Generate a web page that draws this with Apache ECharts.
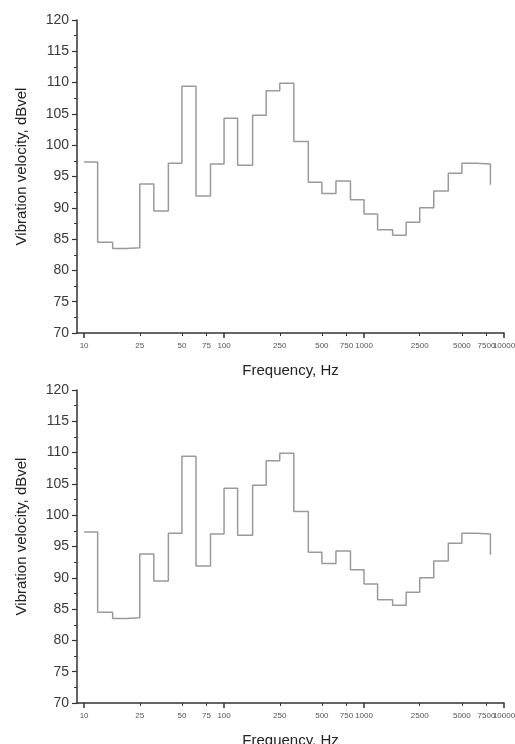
<!DOCTYPE html>
<html>
<head>
<meta charset="utf-8">
<script src="https://cdn.jsdelivr.net/npm/echarts@6/dist/echarts.min.js"></script>
<style>
  html, body { margin: 0; padding: 0; background: #fff; }
  #chart { width: 515px; height: 744px; }
</style>
</head>
<body>
<div id="chart"></div>
<script>
// One-third-octave band centre frequencies, Hz
const bandCentres = [10, 12.5, 16, 20, 25, 31.5, 40, 50, 63, 80, 100, 125, 160, 200, 250,
  315, 400, 500, 630, 800, 1000, 1250, 1600, 2000, 2500, 3150, 4000, 5000, 6300, 8000];
// Vibration velocity level per band, dBvel
const velocityLevels = [97.3, 84.5, 83.5, 83.6, 93.8, 89.5, 97.1, 109.4, 91.9, 97.0, 104.3, 96.8,
  104.8, 108.7, 109.9, 100.6, 94.1, 92.3, 94.3, 91.3, 89.0, 86.5, 85.6, 87.7, 90.0, 92.7,
  95.5, 97.1, 97.0, 93.7];
// Labelled frequency ticks (the last one is drawn by the decade axis)
const freqTickLabels = [10, 25, 50, 75, 100, 250, 500, 750, 1000, 2500, 5000, 7500];
const endTickLabels = [10000];
const decadeTicks = [10, 100, 1000, 10000];
const minorFreqTicks = [25, 50, 75, 250, 500, 750, 2500, 5000, 7500];
// Level axis range
const levelMin = 70, levelMax = 120, levelStep = 5;

const FONT = 'Liberation Sans, Arial, sans-serif';
const AXIS_COLOR = '#333';
const freqMin = 8.9, freqMax = 10000;

const grids = [
  { left: 77, top: 20, width: 427, height: 313, outerBoundsMode: 'none', containLabel: false },
  { left: 77, top: 390, width: 427, height: 313, outerBoundsMode: 'none', containLabel: false }
];

const labelStyle = {
  fontFamily: FONT, fontSize: 8, color: '#555', margin: 9, hideOverlap: false,
  formatter: (v) => String(Math.round(v))
};

const xAxes = [];
const yAxes = [];
const series = [];

grids.forEach((g, i) => {
  // main frequency axis: line, labels, intermediate ticks, title
  xAxes.push({
    type: 'log', logBase: 10, gridIndex: i, position: 'bottom', min: freqMin, max: freqMax,
    name: 'Frequency, Hz', nameLocation: 'middle', nameGap: 30,
    nameTextStyle: { fontFamily: FONT, fontSize: 15, color: '#222' },
    axisLine: { show: true, onZero: false, lineStyle: { color: AXIS_COLOR, width: 1.5 } },
    axisTick: { show: true, customValues: minorFreqTicks, length: 3, inside: false,
      lineStyle: { color: AXIS_COLOR, width: 1 } },
    axisLabel: Object.assign({ show: true, customValues: freqTickLabels }, labelStyle),
    splitLine: { show: false }, minorTick: { show: false }
  });
  // decade ticks drawn longer on an overlaid axis with the same scale
  xAxes.push({
    type: 'log', logBase: 10, gridIndex: i, position: 'bottom', min: freqMin, max: freqMax,
    axisLine: { show: false, onZero: false },
    axisTick: { show: true, customValues: decadeTicks, length: 5,
      lineStyle: { color: AXIS_COLOR, width: 1.5 } },
    axisLabel: Object.assign({ show: true, customValues: endTickLabels, showMaxLabel: true }, labelStyle),
    splitLine: { show: false }
  });
  yAxes.push({
    type: 'value', gridIndex: i, min: levelMin, max: levelMax, interval: levelStep,
    name: 'Vibration velocity, dBvel', nameLocation: 'middle', nameGap: 48,
    nameTextStyle: { fontFamily: FONT, fontSize: 15, color: '#222', padding: [0, 0, 0, 20] },
    axisLine: { show: true, lineStyle: { color: AXIS_COLOR, width: 1.5 } },
    axisTick: { show: true, length: 5, lineStyle: { color: AXIS_COLOR, width: 1.2 } },
    minorTick: { show: true, splitNumber: 2, length: 3, lineStyle: { color: AXIS_COLOR, width: 1 } },
    axisLabel: { fontFamily: FONT, fontSize: 14, color: '#3a3a3a', margin: 8 },
    splitLine: { show: false }, minorSplitLine: { show: false }
  });
  series.push({
    type: 'line', step: 'end', xAxisIndex: i * 2, yAxisIndex: i,
    data: bandCentres.map((f, k) => [f, velocityLevels[k]]),
    showSymbol: false, symbol: 'none', silent: true, animation: false,
    lineStyle: { color: '#9a9a9a', width: 1.5 }
  });
});

const chart = echarts.init(document.getElementById('chart'), null, { renderer: 'canvas' });
chart.setOption({
  backgroundColor: '#fff',
  animation: false,
  grid: grids,
  xAxis: xAxes,
  yAxis: yAxes,
  series: series
});
</script>
</body>
</html>
